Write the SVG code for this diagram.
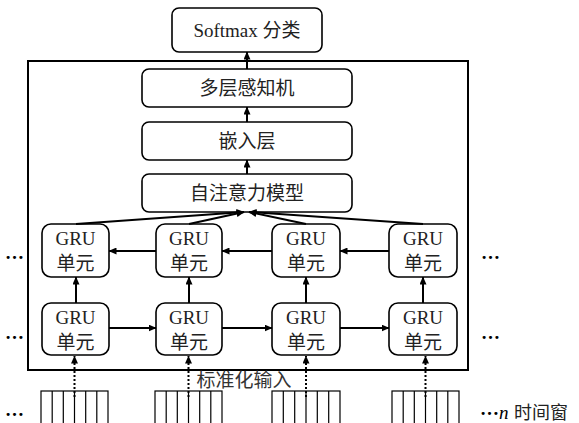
<svg xmlns="http://www.w3.org/2000/svg" width="579" height="423" viewBox="0 0 579 423">
<defs>
<marker id="ah" markerUnits="userSpaceOnUse" markerWidth="8" markerHeight="7" refX="7.5" refY="3.5" orient="auto">
<path d="M0,0 L8,3.5 L0,7 z" fill="#000"/>
</marker>
<style>
.box{fill:#fff;stroke:#000;stroke-width:1.6}
.frame{fill:none;stroke:#000;stroke-width:2}
.t{font-family:"Liberation Serif","Noto Sans CJK SC",serif;font-size:19px;fill:#222;text-anchor:middle}
.d{font-family:"Liberation Serif",serif;font-size:19px;fill:#000;font-weight:bold}
.c{stroke:#000;stroke-width:2;fill:none;marker-end:url(#ah)}
.dot{stroke:#000;stroke-width:2;fill:none;stroke-dasharray:2,2;marker-end:url(#ah)}
.g{fill:#fff;stroke:#000;stroke-width:1.2}
.gl{stroke:#000;stroke-width:1.2}
</style>
</defs>
<rect width="579" height="423" fill="#fff"/>
<rect class="frame" x="28" y="61" width="440" height="309"/>

<g id="softmax"><rect class="box" x="172" y="8" width="150" height="44" rx="7"/><text class="t" x="247" y="37">Softmax 分类</text></g>
<g id="mlp"><rect class="box" x="142" y="69" width="210" height="38" rx="7"/><text class="t" x="247" y="95">多层感知机</text></g>
<g id="embed"><rect class="box" x="142" y="122" width="210" height="38" rx="7"/><text class="t" x="247" y="148">嵌入层</text></g>
<g id="attn"><rect class="box" x="142" y="174" width="210" height="38" rx="7"/><text class="t" x="247" y="200">自注意力模型</text></g>

<g id="gru-t1"><rect class="box" x="42" y="224" width="67" height="53" rx="9"/><text class="t" x="75.5" y="245">GRU</text><text class="t" x="75.5" y="270">单元</text></g>
<g id="gru-t2"><rect class="box" x="156" y="224" width="66" height="53" rx="9"/><text class="t" x="189" y="245">GRU</text><text class="t" x="189" y="270">单元</text></g>
<g id="gru-t3"><rect class="box" x="272" y="224" width="68" height="53" rx="9"/><text class="t" x="306" y="245">GRU</text><text class="t" x="306" y="270">单元</text></g>
<g id="gru-t4"><rect class="box" x="389" y="224" width="68" height="53" rx="9"/><text class="t" x="423" y="245">GRU</text><text class="t" x="423" y="270">单元</text></g>

<g id="gru-b1"><rect class="box" x="42" y="303" width="67" height="52" rx="9"/><text class="t" x="75.5" y="324">GRU</text><text class="t" x="75.5" y="349">单元</text></g>
<g id="gru-b2"><rect class="box" x="156" y="303" width="66" height="52" rx="9"/><text class="t" x="189" y="324">GRU</text><text class="t" x="189" y="349">单元</text></g>
<g id="gru-b3"><rect class="box" x="272" y="303" width="68" height="52" rx="9"/><text class="t" x="306" y="324">GRU</text><text class="t" x="306" y="349">单元</text></g>
<g id="gru-b4"><rect class="box" x="389" y="303" width="68" height="52" rx="9"/><text class="t" x="423" y="324">GRU</text><text class="t" x="423" y="349">单元</text></g>

<g id="win1"><rect class="g" x="41" y="391" width="67" height="45"/><path class="gl" d="M52.2,391V423M63.3,391V423M74.5,391V423M85.7,391V423M96.8,391V423"/></g>
<g id="win2"><rect class="g" x="155" y="391" width="67" height="45"/><path class="gl" d="M166.2,391V423M177.3,391V423M188.5,391V423M199.7,391V423M210.8,391V423"/></g>
<g id="win3"><rect class="g" x="272" y="391" width="68" height="45"/><path class="gl" d="M283.3,391V423M294.7,391V423M306,391V423M317.3,391V423M328.7,391V423"/></g>
<g id="win4"><rect class="g" x="392" y="391" width="67" height="45"/><path class="gl" d="M403.2,391V423M414.3,391V423M425.5,391V423M436.7,391V423M447.8,391V423"/></g>

<g id="connectors">
<line class="c" x1="247" y1="69" x2="247" y2="52"/>
<line class="c" x1="247" y1="122" x2="247" y2="107"/>
<line class="c" x1="247" y1="174" x2="247" y2="160"/>
<line class="c" x1="76" y1="224" x2="244" y2="212"/>
<line class="c" x1="189" y1="224" x2="244" y2="212"/>
<line class="c" x1="306" y1="224" x2="249" y2="212"/>
<line class="c" x1="423" y1="224" x2="249" y2="212"/>
<line class="c" x1="389" y1="251" x2="340" y2="251"/>
<line class="c" x1="272" y1="251" x2="222" y2="251"/>
<line class="c" x1="156" y1="251" x2="109" y2="251"/>
<line class="c" x1="109" y1="328" x2="156" y2="328"/>
<line class="c" x1="222" y1="328" x2="272" y2="328"/>
<line class="c" x1="340" y1="328" x2="389" y2="328"/>
<line class="c" x1="76" y1="303" x2="76" y2="277"/>
<line class="c" x1="189" y1="303" x2="189" y2="277"/>
<line class="c" x1="306" y1="303" x2="306" y2="277"/>
<line class="c" x1="423" y1="303" x2="423" y2="277"/>
<line class="dot" x1="74.5" y1="397" x2="74.5" y2="356"/>
<line class="dot" x1="188.5" y1="397" x2="188.5" y2="356"/>
<line class="dot" x1="306" y1="397" x2="306" y2="356"/>
<line class="dot" x1="425.5" y1="397" x2="425.5" y2="356"/>
</g>

<text class="t" x="244" y="387" style="fill:#333">标准化输入</text>
<text class="d" x="5" y="259">…</text>
<text class="d" x="5" y="339">…</text>
<text class="d" x="5" y="416">…</text>
<text class="d" x="481" y="259">…</text>
<text class="d" x="481" y="339">…</text>
<text class="d" x="480" y="415">…<tspan x="499" y="419" font-style="italic" font-weight="normal" font-size="19px">n</tspan><tspan x="514" y="419" font-family="Noto Sans CJK SC, sans-serif" font-size="18px" font-weight="normal" fill="#222">时间窗</tspan></text>
</svg>
